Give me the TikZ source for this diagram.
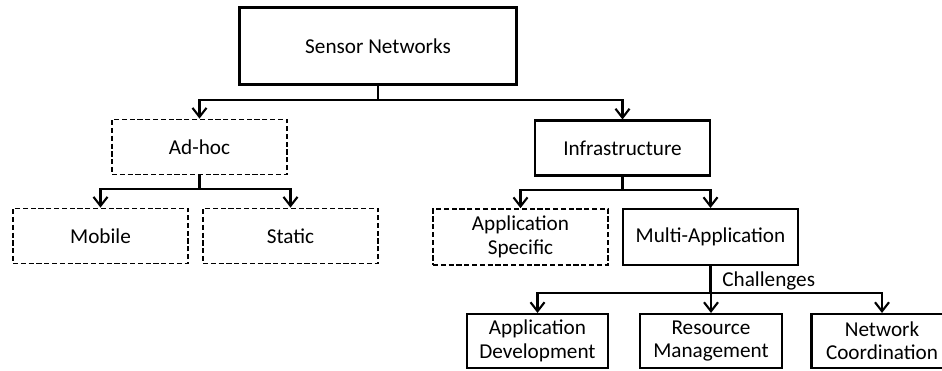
\documentclass[tikz,border=0pt]{standalone}
\usepackage{fontspec}
\setmainfont{Carlito}
\usetikzlibrary{arrows.meta}

\begin{document}
\begin{tikzpicture}[x=0.5pt, y=-0.5pt, font=\fontsize{10.6}{11.7}\selectfont,
        box/.style={draw=black, line width=1.05pt, align=center,
          minimum width=87.5pt, minimum height=27.5pt, inner sep=1pt},
        dbox/.style={box, line width=0.9pt, dash pattern=on 2.6pt off 1.3pt},
        conn/.style={draw=black, line width=1.05pt},
        arr/.style={conn, -{Straight Barb[length=4.5pt, width=7pt, line width=1.05pt]}}]
      \clip (0,0) rectangle (942,370);
      \useasboundingbox (0,0) rectangle (942,370);
      \node[box, minimum width=138.5pt, minimum height=38.5pt] (root) at (378,46) {Sensor Networks};
      \node[dbox] (adhoc)  at (199.5,147) {Ad-hoc};
      \node[box]  (infra)  at (622.5,148) {Infrastructure};
      \node[dbox] (mobile) at (100.5,236) {Mobile};
      \node[dbox] (static) at (290.5,236) {Static};
      \node[dbox, minimum height=28pt] (appspec) at (520.5,237) {Application\\Specific};
      \node[box, minimum height=28pt]  (multi)   at (710.5,237) {Multi-Application};
      \node[box, minimum width=70.5pt, minimum height=27pt] (appdev)   at (537.5,341) {Application\\Development};
      \node[box, minimum width=71pt, minimum height=27pt]   (resmgmt)  at (711,341) {Resource\\Management};
      \node[box, minimum width=70.5pt, minimum height=27pt] (netcoord) at (882,341) {Network\\Coordination};
      \node[anchor=west, inner sep=0pt] (chal) at (722,281) {Challenges};
      \draw[conn] (root.south) -- ++(0,14) coordinate (rj);
      \foreach \n in {adhoc,infra}
        \draw[arr] (rj) -| (\n.north);
      \draw[conn] (adhoc.south) -- ++(0,14) coordinate (aj);
      \foreach \n in {mobile,static}
        \draw[arr] (aj) -| (\n.north);
      \draw[conn] (infra.south) -- ++(0,13) coordinate (ij);
      \foreach \n in {appspec,multi}
        \draw[arr] (ij) -| (\n.north);
      \draw[conn] (multi.south) -- ++(0,27) coordinate (mj);
      \foreach \n in {appdev,resmgmt,netcoord}
        \draw[arr] (mj) -| (\n.north);
      \end{tikzpicture}
\end{document}
